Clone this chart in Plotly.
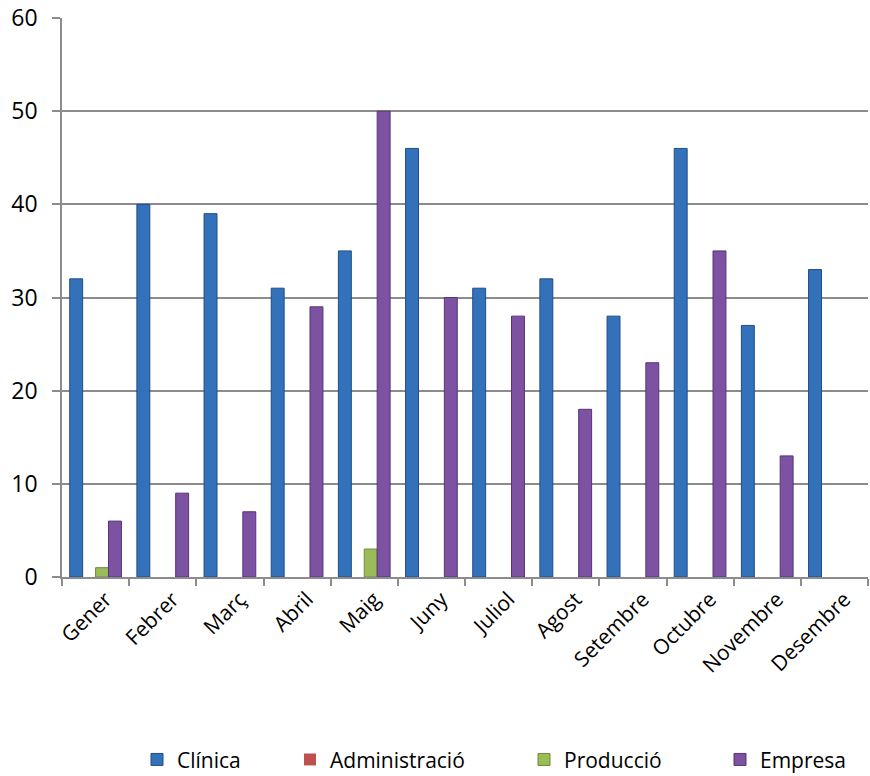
import plotly.graph_objects as go

months = ["Gener", "Febrer", "Març", "Abril", "Maig", "Juny", "Juliol", "Agost",
          "Setembre", "Octubre", "Novembre", "Desembre"]
clinica = [32, 40, 39, 31, 35, 46, 31, 32, 28, 46, 27, 33]
administracio = [0, 0, 0, 0, 0, 0, 0, 0, 0, 0, 0, 0]
produccio = [1, 0, 0, 0, 3, 0, 0, 0, 0, 0, 0, 0]
empresa = [6, 9, 7, 29, 50, 30, 28, 18, 23, 35, 13, 0]
y_ticks = [0, 10, 20, 30, 40, 50, 60]

series = [
    ("Clínica", clinica, "#3471bb", "#1f4e86"),
    ("Administració", administracio, "#c0504d", "#8c2f2c"),
    ("Producció", produccio, "#9bbb59", "#6f8a3a"),
    ("Empresa", empresa, "#7d52a3", "#553578"),
]
legend_names = ["legend", "legend2", "legend3", "legend4"]
# page x of legend symbol centres in reference
legend_px = [159, 312, 546, 742]

FONT = "Open Sans"
PLOT_L, PLOT_W = 62, 806  # page coords

fig = go.Figure()
for (name, vals, col, edge), lg in zip(series, legend_names):
    fig.add_trace(go.Bar(
        name=name, x=months, y=vals, legend=lg,
        marker=dict(color=col,
                    line=dict(color=edge, width=[1 if v else 0 for v in vals])),
    ))

legend_layout = {}
for lg, px in zip(legend_names, legend_px):
    legend_layout[lg] = dict(
        orientation="h", xanchor="left", yanchor="middle",
        x=(px - 22 - PLOT_L) / PLOT_W, y=-0.327,
        font=dict(family=FONT, size=21, color="#000000"),
        itemwidth=30, bgcolor="rgba(0,0,0,0)",
    )

fig.update_layout(
    width=870, height=776,
    margin=dict(l=62, r=2, t=18, b=199, autoexpand=False),
    paper_bgcolor="white", plot_bgcolor="white",
    barmode="group", bargap=0.23, bargroupgap=0,
    font=dict(family=FONT, size=21, color="#000000"),
    showlegend=True,
    xaxis=dict(
        type="category", tickangle=-45, tickson="boundaries", automargin=False,
        ticks="outside", ticklen=7, tickcolor="#8c8c8c", tickwidth=1.5,
        showline=True, linecolor="#8c8c8c", linewidth=1.5,
        showgrid=False, tickfont=dict(family=FONT, size=21),
        ticklabelshift=10,
    ),
    yaxis=dict(
        range=[0, 60], tickvals=y_ticks, ticks="outside", ticklen=8, automargin=False,
        tickcolor="#8c8c8c", tickwidth=1.5,
        showline=True, linecolor="#8c8c8c", linewidth=1.5,
        showgrid=True, gridcolor="#8c8c8c", gridwidth=1.5,
        zeroline=False, tickfont=dict(family=FONT, size=23),
        ticklabelstandoff=10, ticklabeloverflow="allow",
    ),
    **legend_layout,
)

fig.write_html(
    "out.html",
    config={"displayModeBar": False},
    post_script=(
        "document.body.style.margin='0';"
        "document.body.style.overflow='hidden';"
        "document.documentElement.style.overflow='hidden';"
    ),
)
